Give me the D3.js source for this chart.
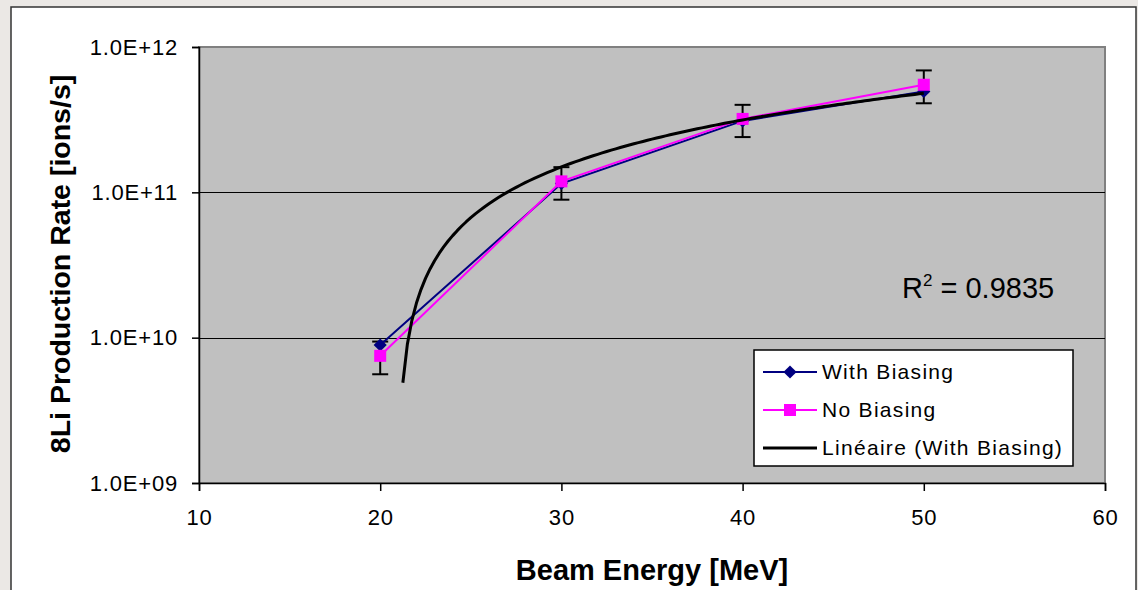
<!DOCTYPE html>
<html>
<head>
<meta charset="utf-8">
<script src="https://cdn.jsdelivr.net/npm/d3@7"></script>
<style>
  html, body { margin: 0; padding: 0; background: #ebe8e5; }
  svg { display: block; font-family: Arial, "Liberation Sans", sans-serif; }
</style>
</head>
<body>
<svg id="chart" width="1138" height="590"></svg>
<script>
// ---- data ----
const energies = [20, 30, 40, 50];
const withBiasing = [8.9e9, 1.15e11, 3.1e11, 4.95e11];
const noBiasing = [7.5e9, 1.19e11, 3.2e11, 5.5e11];
const noBiasingErr = [1.9e9, 3.0e10, 8.0e10, 1.4e11];
const xTicks = [10, 20, 30, 40, 50, 60];
const yTicks = [1e9, 1e10, 1e11, 1e12];
const yTickLabels = ["1.0E+09", "1.0E+10", "1.0E+11", "1.0E+12"];
const seriesNames = ["With Biasing", "No Biasing", "Linéaire (With Biasing)"];
const r2Label = "0.9835";

const svg = d3.select("#chart");
const plot = { left: 199, top: 47, right: 1105, bottom: 483 };
const FONT = "Arial, 'Liberation Sans', sans-serif";

// chart area
svg.append("rect").attr("x", 11).attr("y", 7).attr("width", 1125).attr("height", 600)
  .attr("fill", "#ffffff").attr("stroke", "#333").attr("stroke-width", 1.5);

const x = d3.scaleLinear().domain([10, 60]).range([plot.left, plot.right]);
const y = d3.scaleLog().domain([1e9, 1e12]).range([plot.bottom, plot.top]);

// plot background
svg.append("rect").attr("x", plot.left).attr("y", plot.top)
  .attr("width", plot.right - plot.left).attr("height", plot.bottom - plot.top)
  .attr("fill", "#c0c0c0").attr("stroke", "#808080").attr("stroke-width", 2);

// gridlines
svg.append("g").selectAll("line").data(yTicks.slice(1, 3)).join("line")
  .attr("x1", plot.left).attr("x2", plot.right)
  .attr("y1", d => Math.round(y(d)) + 0.5).attr("y2", d => Math.round(y(d)) + 0.5)
  .attr("stroke", "#000").attr("stroke-width", 1);

// axes
const yAxis = d3.axisLeft(y).tickValues(yTicks)
  .tickFormat((d, i) => yTickLabels[i]).tickSizeOuter(0).tickSize(7).tickPadding(14);
const gy = svg.append("g").attr("transform", `translate(${plot.left},0)`).call(yAxis);
gy.attr("font-size", null).attr("font-family", null);
gy.select(".domain").attr("stroke", "#000").attr("stroke-width", 1.5);
gy.selectAll(".tick line").attr("stroke", "#000").attr("stroke-width", 1.5);
gy.selectAll("text").style("font-size", "22px").style("letter-spacing", "0.8px")
  .attr("fill", "#000").style("font-family", FONT);

const xAxis = d3.axisBottom(x).tickValues(xTicks).tickFormat(d3.format("d"))
  .tickSizeOuter(0).tickSize(8).tickPadding(18);
const gx = svg.append("g").attr("transform", `translate(0,${plot.bottom})`).call(xAxis);
gx.attr("font-size", null).attr("font-family", null);
gx.select(".domain").attr("stroke", "#000").attr("stroke-width", 1.5);
gx.selectAll(".tick line").attr("stroke", "#000").attr("stroke-width", 1.5);
gx.selectAll("text").style("font-size", "22px").style("letter-spacing", "0.8px")
  .attr("fill", "#000").style("font-family", FONT);

// axis titles
svg.append("text").attr("x", 652).attr("y", 580)
  .attr("text-anchor", "middle").attr("font-weight", "bold").style("font-size", "29px")
  .text("Beam Energy [MeV]");
svg.append("text").attr("transform", `translate(70,264) rotate(-90)`)
  .attr("text-anchor", "middle").attr("font-weight", "bold").style("font-size", "28.5px")
  .text("8Li Production Rate [ions/s]");

// error bars (No Biasing)
const eb = svg.append("g");
energies.forEach((e, i) => {
  const cx = x(e), lo = y(noBiasing[i] - noBiasingErr[i]), hi = y(noBiasing[i] + noBiasingErr[i]);
  eb.append("line").attr("x1", cx).attr("x2", cx).attr("y1", lo).attr("y2", hi)
    .attr("stroke", "#000").attr("stroke-width", 2);
  [lo, hi].forEach(yy => eb.append("line").attr("x1", cx - 8).attr("x2", cx + 8)
    .attr("y1", yy).attr("y2", yy).attr("stroke", "#000").attr("stroke-width", 2));
});

const line = d3.line().x(d => x(d[0])).y(d => y(d[1]));

// With Biasing
const wData = energies.map((e, i) => [e, withBiasing[i]]);
svg.append("path").datum(wData).attr("d", line).attr("fill", "none")
  .attr("stroke", "#000080").attr("stroke-width", 2);
svg.append("g").selectAll("path").data(wData).join("path")
  .attr("d", d3.symbol(d3.symbolDiamond2, 110))
  .attr("transform", d => `translate(${x(d[0])},${y(d[1])})`).attr("fill", "#000080");

// No Biasing
const nData = energies.map((e, i) => [e, noBiasing[i]]);
svg.append("path").datum(nData).attr("d", line).attr("fill", "none")
  .attr("stroke", "#ff00ff").attr("stroke-width", 2);
svg.append("g").selectAll("rect").data(nData).join("rect")
  .attr("x", d => x(d[0]) - 6).attr("y", d => y(d[1]) - 6)
  .attr("width", 12).attr("height", 12).attr("fill", "#ff00ff");

// Linear trendline of With Biasing (least squares)
const mx = d3.mean(energies), my = d3.mean(withBiasing);
let sxy = 0, sxx = 0;
energies.forEach((e, i) => { sxy += (e - mx) * (withBiasing[i] - my); sxx += (e - mx) * (e - mx); });
const slope = sxy / sxx, intercept = my - slope * mx;
const trend = d3.range(20, 50.001, 0.25).map(e => [e, slope * e + intercept]).filter(d => d[1] >= 1e9);
svg.append("path").datum(trend).attr("d", line).attr("fill", "none")
  .attr("stroke", "#000").attr("stroke-width", 3).attr("stroke-linejoin", "round");

// R² label
const r2 = svg.append("text").attr("x", 902).attr("y", 298).style("font-size", "29px").attr("fill", "#000");
r2.append("tspan").text("R");
r2.append("tspan").style("font-size", "17px").attr("dy", -12).text("2");
r2.append("tspan").attr("dy", 12).text(" = " + r2Label);

// legend
const lg = svg.append("g");
lg.append("rect").attr("x", 754).attr("y", 350).attr("width", 319).attr("height", 116)
  .attr("fill", "#fff").attr("stroke", "#000").attr("stroke-width", 1.5);
const rows = [372, 410, 448];
const colors = ["#000080", "#ff00ff", "#000"];
rows.forEach((ry, i) => {
  lg.append("line").attr("x1", 763).attr("x2", 817).attr("y1", ry).attr("y2", ry)
    .attr("stroke", colors[i]).attr("stroke-width", i === 2 ? 3 : 2);
  if (i === 0) lg.append("path").attr("d", d3.symbol(d3.symbolDiamond2, 110))
    .attr("transform", `translate(790,${ry})`).attr("fill", colors[i]);
  if (i === 1) lg.append("rect").attr("x", 784).attr("y", ry - 6).attr("width", 12).attr("height", 12)
    .attr("fill", colors[i]);
  lg.append("text").attr("x", 822).attr("y", ry + 7).style("font-size", "21px")
    .style("letter-spacing", "1.3px").attr("fill", "#000")
    .text(seriesNames[i]);
});
</script>
</body>
</html>
